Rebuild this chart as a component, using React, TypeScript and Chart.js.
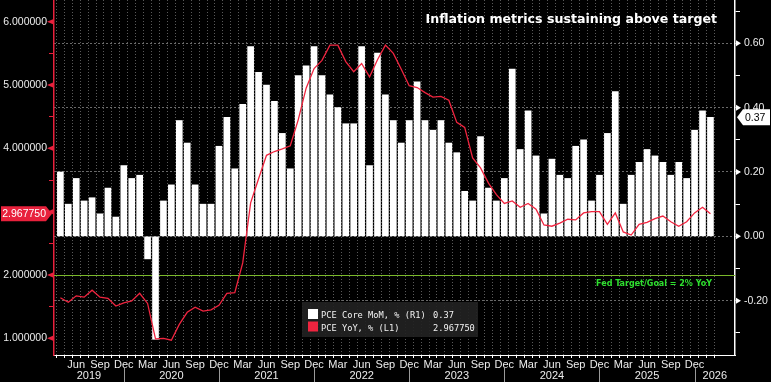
import React, { useEffect, useRef } from 'react';
import { Chart, registerables } from 'chart.js';

Chart.register(...registerables);

// ---------- data ----------
const months = [
  'Apr 2019', 'May 2019', 'Jun 2019', 'Jul 2019', 'Aug 2019', 'Sep 2019', 'Oct 2019', 'Nov 2019', 'Dec 2019',
  'Jan 2020', 'Feb 2020', 'Mar 2020', 'Apr 2020', 'May 2020', 'Jun 2020', 'Jul 2020', 'Aug 2020', 'Sep 2020', 'Oct 2020', 'Nov 2020', 'Dec 2020',
  'Jan 2021', 'Feb 2021', 'Mar 2021', 'Apr 2021', 'May 2021', 'Jun 2021', 'Jul 2021', 'Aug 2021', 'Sep 2021', 'Oct 2021', 'Nov 2021', 'Dec 2021',
  'Jan 2022', 'Feb 2022', 'Mar 2022', 'Apr 2022', 'May 2022', 'Jun 2022', 'Jul 2022', 'Aug 2022', 'Sep 2022', 'Oct 2022', 'Nov 2022', 'Dec 2022',
  'Jan 2023', 'Feb 2023', 'Mar 2023', 'Apr 2023', 'May 2023', 'Jun 2023', 'Jul 2023', 'Aug 2023', 'Sep 2023', 'Oct 2023', 'Nov 2023', 'Dec 2023',
  'Jan 2024', 'Feb 2024', 'Mar 2024', 'Apr 2024', 'May 2024', 'Jun 2024', 'Jul 2024', 'Aug 2024', 'Sep 2024', 'Oct 2024', 'Nov 2024', 'Dec 2024',
  'Jan 2025', 'Feb 2025', 'Mar 2025', 'Apr 2025', 'May 2025', 'Jun 2025', 'Jul 2025', 'Aug 2025', 'Sep 2025', 'Oct 2025', 'Nov 2025', 'Dec 2025',
  'Jan 2026', 'Feb 2026',
];

// PCE Core MoM, % (right axis)
const coreMoM = [
  0.20, 0.10, 0.18, 0.11, 0.12, 0.07, 0.15, 0.06, 0.22,
  0.18, 0.19, -0.07, -0.32, 0.11, 0.16, 0.36, 0.29, 0.16, 0.10, 0.10, 0.28,
  0.37, 0.21, 0.41, 0.59, 0.51, 0.47, 0.42, 0.32, 0.21, 0.50, 0.53, 0.59,
  0.50, 0.44, 0.40, 0.35, 0.35, 0.59, 0.22, 0.57, 0.44, 0.36, 0.29, 0.36,
  0.48, 0.36, 0.33, 0.36, 0.29, 0.26, 0.14, 0.11, 0.31, 0.15, 0.11, 0.18,
  0.52, 0.27, 0.39, 0.25, 0.07, 0.24, 0.19, 0.18, 0.28, 0.30, 0.11, 0.19,
  0.32, 0.45, 0.10, 0.19, 0.23, 0.27, 0.25, 0.23, 0.19, 0.23, 0.18, 0.33,
  0.39, 0.37,
];

// PCE YoY, % (left axis)
const pceYoY = [
  1.64, 1.57, 1.67, 1.65, 1.76, 1.65, 1.63, 1.51, 1.56,
  1.59, 1.71, 1.55, 0.99, 1.00, 0.97, 1.22, 1.41, 1.49, 1.43, 1.45, 1.52,
  1.71, 1.72, 2.19, 3.14, 3.52, 3.89, 3.95, 3.99, 4.04, 4.45, 4.95, 5.26,
  5.39, 5.63, 5.63, 5.37, 5.21, 5.34, 5.13, 5.40, 5.63, 5.50, 5.25, 4.99,
  4.96, 4.88, 4.81, 4.82, 4.76, 4.41, 4.33, 3.85, 3.69, 3.45, 3.27, 3.13,
  3.17, 3.07, 3.13, 3.04, 2.79, 2.77, 2.82, 2.88, 2.87, 2.98, 3.00, 3.00,
  2.80, 2.98, 2.68, 2.63, 2.80, 2.83, 2.89, 2.93, 2.84, 2.77, 2.84, 2.98,
  3.07, 2.96775,
];

const leftTicks = [1, 1.5, 2, 2.5, 3, 3.5, 4, 4.5, 5, 5.5, 6];
const rightTicks = [-0.3, -0.2, -0.1, 0, 0.1, 0.2, 0.3, 0.4, 0.5, 0.6, 0.7];
const labeledMonths = ['Mar', 'Jun', 'Sep', 'Dec'];
const TARGET = 2;
const TITLE = 'Inflation metrics sustaining above target';
const TARGET_LABEL = 'Fed Target/Goal = 2% YoY';
const legendLabels = ['PCE Core MoM, % (R1)', 'PCE YoY, % (L1)'];

// ---------- styles ----------
const SANS = '"Liberation Sans", Arial, sans-serif';
const AXIS_SIZE = 10.5;
const BOLD = '"DejaVu Sans", "Liberation Sans", sans-serif';
const MONO = '"DejaVu Sans Mono", "Liberation Mono", monospace';
const RED = '#f0243f';
const AXIS_RED = '#e8213c';
const TEXT = '#ececec';

const isMajorRight = (v: number) => Math.round(v * 10) % 2 === 0;

const overlay = {
  id: 'overlay',
  beforeDatasetsDraw(chart: any) {
    const { ctx, chartArea: a, scales } = chart;
    const y = Math.round(scales.y.getPixelForValue(TARGET)) + 0.5;
    ctx.save();
    ctx.strokeStyle = '#7ab82a';
    ctx.lineWidth = 1.2;
    ctx.beginPath();
    ctx.moveTo(a.left, y);
    ctx.lineTo(a.right, y);
    ctx.stroke();
    ctx.restore();
  },
  afterDraw(chart: any) {
    const { ctx, chartArea: a, scales } = chart;
    const xs = scales.x, yl = scales.y, yr = scales.y1;
    ctx.save();

    // title
    ctx.font = `bold 12.6px ${BOLD}`;
    ctx.fillStyle = '#ffffff';
    ctx.textAlign = 'right';
    ctx.textBaseline = 'alphabetic';
    ctx.fillText(TITLE, 717, 23);

    // target label
    ctx.font = `bold 8px ${BOLD}`;
    ctx.fillStyle = '#2ee02e';
    ctx.textAlign = 'right';
    ctx.fillText(TARGET_LABEL, 712, 286);

    // right axis triangles on majors
    ctx.fillStyle = '#ffffff';
    rightTicks.filter(isMajorRight).forEach((v) => {
      const y = yr.getPixelForValue(v);
      ctx.beginPath();
      ctx.moveTo(a.right + 1, y - 3);
      ctx.lineTo(a.right + 6, y);
      ctx.lineTo(a.right + 1, y + 3);
      ctx.closePath();
      ctx.fill();
    });
    // left axis triangles on majors
    ctx.fillStyle = AXIS_RED;
    leftTicks.filter((v) => Number.isInteger(v)).forEach((v) => {
      const y = yl.getPixelForValue(v);
      ctx.beginPath();
      ctx.moveTo(a.left - 7, y);
      ctx.lineTo(a.left - 1, y - 2.5);
      ctx.lineTo(a.left - 1, y + 2.5);
      ctx.closePath();
      ctx.fill();
    });

    // year separators and labels
    const decIdx = months.map((m, i) => (m.startsWith('Dec') ? i : -1)).filter((i) => i >= 0);
    ctx.strokeStyle = '#9a9a9a';
    ctx.lineWidth = 1;
    decIdx.forEach((i) => {
      const x = Math.round(xs.getPixelForValue(i)) + 0.5;
      ctx.beginPath();
      ctx.moveTo(x, 368);
      ctx.lineTo(x, 382);
      ctx.stroke();
    });
    const years = Array.from(new Set(months.map((m) => m.split(' ')[1])));
    ctx.font = `${AXIS_SIZE + 0.5}px ${SANS}`;
    ctx.fillStyle = TEXT;
    ctx.textAlign = 'center';
    ctx.textBaseline = 'middle';
    years.forEach((yr_) => {
      const prevDec = months.indexOf(`Dec ${Number(yr_) - 1}`);
      const thisDec = months.indexOf(`Dec ${yr_}`);
      const left = prevDec >= 0 ? xs.getPixelForValue(prevDec) : a.left;
      const right = thisDec >= 0 ? xs.getPixelForValue(thisDec) : a.right;
      ctx.fillText(yr_, (left + right) / 2, 375.5);
    });

    // legend box
    ctx.fillStyle = 'rgba(34,34,34,0.92)';
    ctx.fillRect(302, 302, 176, 35);
    ctx.fillStyle = '#ffffff';
    ctx.fillRect(308, 309, 10, 10);
    ctx.fillStyle = RED;
    ctx.fillRect(308, 321.5, 10, 10);
    ctx.font = `8.7px ${MONO}`;
    ctx.fillStyle = '#f2f2f2';
    ctx.textAlign = 'left';
    ctx.textBaseline = 'alphabetic';
    const lastMoM = coreMoM[coreMoM.length - 1];
    const lastYoY = pceYoY[pceYoY.length - 1];
    ctx.fillText(legendLabels[0], 321, 318);
    ctx.fillText(lastMoM.toFixed(2), 433, 318);
    ctx.fillText(legendLabels[1], 321, 330.5);
    ctx.fillText(lastYoY.toFixed(6), 433, 330.5);

    // left value box
    const ly = yl.getPixelForValue(lastYoY);
    ctx.fillStyle = AXIS_RED;
    ctx.beginPath();
    ctx.moveTo(1, ly - 7.5);
    ctx.lineTo(46, ly - 7.5);
    ctx.lineTo(52, ly);
    ctx.lineTo(46, ly + 7.5);
    ctx.lineTo(1, ly + 7.5);
    ctx.closePath();
    ctx.fill();
    ctx.font = `${AXIS_SIZE}px ${SANS}`;
    ctx.fillStyle = '#ffffff';
    ctx.textAlign = 'right';
    ctx.textBaseline = 'middle';
    ctx.fillText(lastYoY.toFixed(6), 46, ly + 0.5);

    // right value box
    const ry = yr.getPixelForValue(lastMoM);
    ctx.fillStyle = '#ffffff';
    ctx.beginPath();
    ctx.moveTo(a.right + 2, ry);
    ctx.lineTo(a.right + 8, ry - 8);
    ctx.lineTo(770, ry - 8);
    ctx.lineTo(770, ry + 8);
    ctx.lineTo(a.right + 8, ry + 8);
    ctx.closePath();
    ctx.fill();
    ctx.fillStyle = '#000000';
    ctx.textAlign = 'left';
    ctx.fillText(lastMoM.toFixed(2), a.right + 10, ry + 0.5);

    ctx.restore();
  },
};

export default function App() {
  const ref = useRef<HTMLCanvasElement | null>(null);

  useEffect(() => {
    if (!ref.current) return;
    const chart = new Chart(ref.current, {
      data: {
        datasets: [
          {
            type: 'line',
            label: legendLabels[1],
            data: pceYoY.map((v, i) => ({ x: i, y: v })),
            xAxisID: 'x',
            yAxisID: 'y',
            borderColor: RED,
            borderWidth: 1.3,
            pointRadius: 0,
            tension: 0,
            order: 0,
          },
          {
            type: 'bar',
            label: legendLabels[0],
            data: coreMoM.map((v, i) => ({ x: i, y: v })),
            xAxisID: 'x',
            yAxisID: 'y1',
            backgroundColor: '#ffffff',
            barThickness: 6,
            order: 1,
          },
        ],
      } as any,
      options: {
        responsive: false,
        animation: false,
        devicePixelRatio: 1,
        layout: { padding: 0 },
        plugins: {
          legend: { display: false },
          title: { display: false },
          tooltip: { enabled: false },
        },
        scales: {
          x: {
            type: 'linear',
            position: 'bottom',
            min: -0.287,
            max: 84.58,
            afterBuildTicks: (s: any) => {
              s.ticks = months.map((_, i) => ({ value: i }));
            },
            afterFit: (s: any) => {
              s.height = 27;
              s.paddingLeft = 0;
              s.paddingRight = 0;
            },
            ticks: {
              autoSkip: false,
              maxRotation: 0,
              minRotation: 0,
              padding: 0,
              color: TEXT,
              font: { family: SANS, size: AXIS_SIZE + 0.5 },
              callback: (v: any) => {
                const m = months[Math.round(v)];
                if (!m) return '';
                const name = m.split(' ')[0];
                return labeledMonths.includes(name) ? name : '';
              },
            },
            grid: {
              color: '#5a5a5a',
              lineWidth: 1,
              drawTicks: true,
              tickLength: 3,
              tickColor: '#ffffff',
            },
            border: { display: true, color: '#ffffff', width: 1, dash: [1, 2] },
          },
          y: {
            type: 'linear',
            position: 'left',
            min: 0.736,
            max: 6.343,
            afterBuildTicks: (s: any) => {
              s.ticks = leftTicks.map((v) => ({ value: v }));
            },
            afterFit: (s: any) => {
              s.width = 54;
              s.paddingTop = 0;
              s.paddingBottom = 0;
            },
            ticks: {
              padding: 2,
              color: TEXT,
              font: { family: SANS, size: AXIS_SIZE },
              callback: (v: any) => (Number.isInteger(v) ? Number(v).toFixed(6) : ''),
            },
            grid: {
              drawOnChartArea: false,
              drawTicks: true,
              tickLength: 5,
              tickColor: AXIS_RED,
            },
            border: { display: true, color: AXIS_RED, width: 1.5 },
          },
          y1: {
            type: 'linear',
            position: 'right',
            min: -0.3688,
            max: 0.7346,
            afterBuildTicks: (s: any) => {
              s.ticks = rightTicks.map((v) => ({ value: v }));
            },
            afterFit: (s: any) => {
              s.width = 36;
              s.paddingTop = 0;
              s.paddingBottom = 0;
            },
            ticks: {
              padding: 4,
              color: TEXT,
              font: { family: SANS, size: AXIS_SIZE },
              callback: (v: any) => (isMajorRight(v) ? Number(v).toFixed(2) : ''),
            },
            grid: {
              drawOnChartArea: true,
              color: (c: any) => (c.tick && isMajorRight(c.tick.value) ? '#6a6a6a' : 'rgba(0,0,0,0)'),
              drawTicks: true,
              tickLength: 5,
              tickColor: '#ffffff',
            },
            border: { display: true, color: '#ffffff', width: 1.5, dash: [2, 2] },
          },
        },
      } as any,
      plugins: [overlay],
    });
    return () => chart.destroy();
  }, []);

  return (
    <div style={{ position: 'fixed', left: 0, top: 0, width: 771, height: 382, background: '#000' }}>
      <canvas ref={ref} width={771} height={382} style={{ display: 'block' }} />
    </div>
  );
}
